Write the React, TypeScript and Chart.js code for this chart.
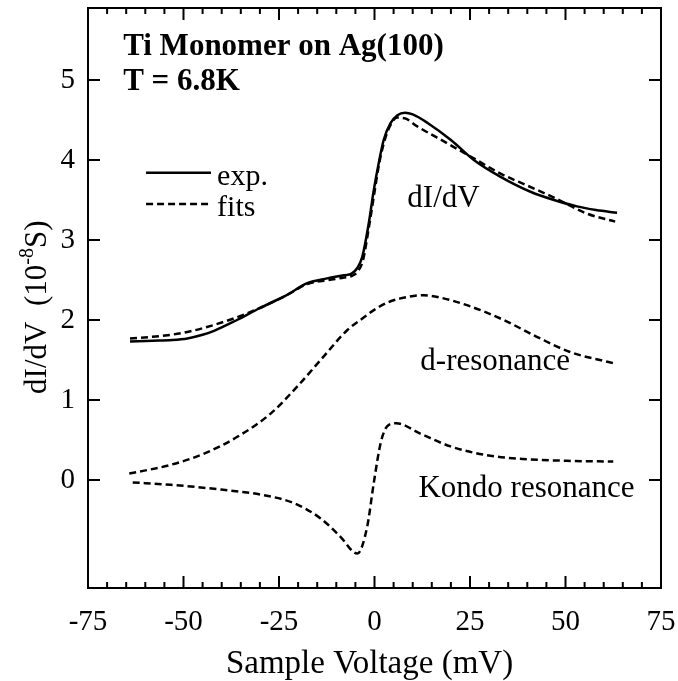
import { useEffect, useRef } from "react";
import { Chart, registerables } from "chart.js";

Chart.register(...registerables);

// Measured tunneling spectrum (solid)
const voltageExp = [-64, -58, -53, -49, -45, -42, -36, -30, -23, -17.6, -12.4, -8, -6, -4.5, -3.2, -1.5, -0.2, 1.1, 2.4, 4.2, 6, 8, 10, 14, 20, 26, 33, 41, 47, 53, 58, 63.5];
const dIdVExp = [1.73, 1.74, 1.75, 1.77, 1.815, 1.865, 2.0, 2.15, 2.31, 2.46, 2.52, 2.56, 2.58, 2.65, 2.79, 3.21, 3.62, 3.96, 4.25, 4.46, 4.56, 4.59, 4.57, 4.46, 4.25, 4.0, 3.79, 3.6, 3.5, 3.42, 3.375, 3.34];

// Total fit (dashed)
const voltageFit = [-64, -56, -49, -38, -30, -23, -17.6, -12, -8, -6, -4.5, -3, -1.5, 0, 1.2, 2.5, 4, 5.9, 8, 11.2, 19, 26, 33, 40, 47, 55.6, 63];
const dIdVFit = [1.77, 1.8, 1.85, 2.0, 2.15, 2.31, 2.45, 2.5, 2.53, 2.55, 2.6, 2.75, 3.15, 3.6, 3.95, 4.22, 4.42, 4.53, 4.52, 4.42, 4.21, 4.02, 3.83, 3.68, 3.53, 3.33, 3.23];

// d-resonance component
const voltageD = [-64.2, -53.3, -44.6, -35.9, -27.2, -20.2, -14.1, -7.1, -3.7, 0.7, 3.5, 6.8, 12.9, 18.1, 25.1, 33.8, 42.5, 51.2, 62.5];
const dResonance = [0.08, 0.19, 0.33, 0.54, 0.83, 1.17, 1.5, 1.875, 2.0, 2.15, 2.22, 2.27, 2.31, 2.27, 2.17, 2.0, 1.79, 1.6, 1.46];

// Kondo (Fano) component
const voltageK = [-63.3, -53.3, -40.2, -28.9, -21.1, -14.1, -8.9, -4.5, -1.9, -0.2, 1.6, 3.3, 5.7, 12, 19.9, 29.4, 39.9, 50.4, 62.5];
const kondo = [-0.03, -0.06, -0.12, -0.19, -0.29, -0.48, -0.71, -0.92, -0.58, -0.04, 0.46, 0.67, 0.71, 0.58, 0.42, 0.31, 0.26, 0.24, 0.23];

const xTicks = [-75, -50, -25, 0, 25, 50, 75];
const yTicks = [0, 1, 2, 3, 4, 5];

const SERIF = "'Liberation Serif', 'DejaVu Serif', serif";
const INK = "#000";

const toPoints = (xs: number[], ys: number[]) => xs.map((x, i) => ({ x, y: ys[i] }));

const framePlugin = {
  id: "frameAndText",
  afterDraw(chart: any) {
    const { ctx, chartArea, scales } = chart;
    const { left, right, top, bottom } = chartArea;
    const x = scales.x;
    const y = scales.y;
    ctx.save();
    ctx.strokeStyle = INK;
    ctx.lineWidth = 2;
    ctx.strokeRect(left, top, right - left, bottom - top);

    // inward tick marks on all four sides
    ctx.beginPath();
    for (let v = -75; v <= 75; v += 5) {
      const px = x.getPixelForValue(v);
      const len = Math.abs(v % 25) === 0 ? 12 : 6;
      ctx.moveTo(px, bottom);
      ctx.lineTo(px, bottom - len);
      ctx.moveTo(px, top);
      ctx.lineTo(px, top + len);
    }
    for (const v of yTicks) {
      const py = y.getPixelForValue(v);
      ctx.moveTo(left, py);
      ctx.lineTo(left + 12, py);
      ctx.moveTo(right, py);
      ctx.lineTo(right - 12, py);
    }
    ctx.stroke();

    ctx.fillStyle = INK;
    ctx.textBaseline = "alphabetic";
    ctx.textAlign = "left";

    // header
    ctx.font = `bold 31px ${SERIF}`;
    ctx.fillText("Ti Monomer on Ag(100)", x.getPixelForValue(-65.8), y.getPixelForValue(5.31));
    ctx.fillText("T = 6.8K", x.getPixelForValue(-65.8), y.getPixelForValue(4.875));

    // legend
    const lx0 = x.getPixelForValue(-59.8);
    const lx1 = x.getPixelForValue(-42.8);
    const ly1 = y.getPixelForValue(3.84);
    const ly2 = y.getPixelForValue(3.45);
    ctx.lineWidth = 2.5;
    ctx.beginPath();
    ctx.moveTo(lx0, ly1);
    ctx.lineTo(lx1, ly1);
    ctx.stroke();
    ctx.setLineDash([7, 4]);
    ctx.beginPath();
    ctx.moveTo(lx0, ly2);
    ctx.lineTo(lx1, ly2);
    ctx.stroke();
    ctx.setLineDash([]);
    ctx.font = `30px ${SERIF}`;
    ctx.fillText("exp.", x.getPixelForValue(-41.2), y.getPixelForValue(3.69));
    ctx.fillText("fits", x.getPixelForValue(-41.2), y.getPixelForValue(3.3));

    // curve labels
    ctx.font = `31px ${SERIF}`;
    ctx.fillText("dI/dV", x.getPixelForValue(8.6), y.getPixelForValue(3.41));
    ctx.fillText("d-resonance", x.getPixelForValue(12), y.getPixelForValue(1.37));
    ctx.fillText("Kondo resonance", x.getPixelForValue(11.5), y.getPixelForValue(-0.21));

    // x-axis title
    ctx.font = `33px ${SERIF}`;
    ctx.textAlign = "center";
    ctx.fillText("Sample Voltage (mV)", x.getPixelForValue(-1.3), 673);

    // y-axis title with superscript exponent
    const cy = y.getPixelForValue(2.16);
    ctx.translate(46, cy);
    ctx.rotate(-Math.PI / 2);
    ctx.textAlign = "left";
    const mainFont = `31px ${SERIF}`;
    const supFont = `20px ${SERIF}`;
    const partA = "dI/dV  (10";
    const partB = "-8";
    const partC = "S)";
    ctx.font = mainFont;
    const wA = ctx.measureText(partA).width;
    const wC = ctx.measureText(partC).width;
    ctx.font = supFont;
    const wB = ctx.measureText(partB).width;
    let cx = -(wA + wB + wC) / 2;
    ctx.font = mainFont;
    ctx.fillText(partA, cx, 0);
    cx += wA;
    ctx.font = supFont;
    ctx.fillText(partB, cx, -13);
    cx += wB;
    ctx.font = mainFont;
    ctx.fillText(partC, cx, 0);
    ctx.restore();
  },
};

const noScalePadding = (s: any) => {
  s.paddingTop = 0;
  s.paddingBottom = 0;
  s.paddingLeft = 0;
  s.paddingRight = 0;
};

export default function App() {
  const canvasRef = useRef<HTMLCanvasElement | null>(null);

  useEffect(() => {
    const canvas = canvasRef.current;
    if (!canvas) return;
    const dashed = [7, 4];
    const line = (data: any, dash: number[] | undefined) => ({
      data,
      borderColor: INK,
      borderWidth: 2.5,
      borderDash: dash,
      pointRadius: 0,
      fill: false,
      cubicInterpolationMode: "monotone" as const,
    });
    const chart = new Chart(canvas, {
      type: "line",
      data: {
        datasets: [
          { label: "exp.", ...line(toPoints(voltageExp, dIdVExp), undefined) },
          { label: "fits", ...line(toPoints(voltageFit, dIdVFit), dashed) },
          { label: "d-resonance", ...line(toPoints(voltageD, dResonance), dashed) },
          { label: "Kondo resonance", ...line(toPoints(voltageK, kondo), dashed) },
        ],
      },
      options: {
        animation: false,
        responsive: false,
        maintainAspectRatio: false,
        layout: { padding: { top: 8, right: 17, left: 0, bottom: 0 } },
        plugins: { legend: { display: false }, tooltip: { enabled: false } },
        scales: {
          x: {
            type: "linear",
            min: -75,
            max: 75,
            grid: { display: false, drawTicks: false },
            border: { display: false },
            afterBuildTicks: (s: any) => {
              s.ticks = xTicks.map((v) => ({ value: v }));
            },
            afterFit: (s: any) => {
              s.height = 93;
              noScalePadding(s);
            },
            ticks: {
              color: INK,
              padding: 17,
              maxRotation: 0,
              autoSkip: false,
              font: { family: SERIF, size: 29 },
            },
          },
          y: {
            type: "linear",
            min: -1.35,
            max: 5.9,
            grid: { display: false, drawTicks: false },
            border: { display: false },
            afterBuildTicks: (s: any) => {
              s.ticks = yTicks.map((v) => ({ value: v }));
            },
            afterFit: (s: any) => {
              s.width = 88;
              noScalePadding(s);
            },
            ticks: {
              color: INK,
              padding: 13,
              font: { family: SERIF, size: 29 },
            },
          },
        },
      },
      plugins: [framePlugin],
    });
    return () => chart.destroy();
  }, []);

  return (
    <div style={{ position: "fixed", left: 0, top: 0, width: 678, height: 681, background: "#fff" }}>
      <canvas ref={canvasRef} width={678} height={681} style={{ display: "block" }} />
    </div>
  );
}
